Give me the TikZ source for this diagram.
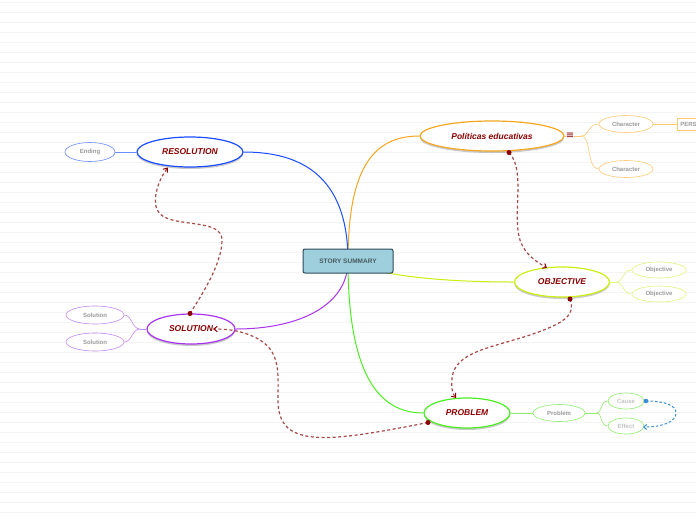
\documentclass[tikz,border=0pt]{standalone}
\usepackage{fontspec}
\setmainfont{Liberation Sans}
\newfontfamily\symfont{DejaVu Sans}
\usetikzlibrary{shapes.geometric,arrows.meta,shadows,backgrounds}
\definecolor{cfill}{HTML}{9DD0DC}
\definecolor{cborder}{HTML}{2E4A5A}
\definecolor{ctext}{HTML}{4A5A60}
\definecolor{dred}{HTML}{8B0000}
\definecolor{relc}{HTML}{A84848}
\definecolor{orgM}{HTML}{F5A623}
\definecolor{orgS}{HTML}{FFC875}
\definecolor{bluM}{HTML}{1A4DFF}
\definecolor{bluS}{HTML}{6A8CFF}
\definecolor{ygM}{HTML}{CCEE11}
\definecolor{ygS}{HTML}{E2F27A}
\definecolor{grnM}{HTML}{4CEE22}
\definecolor{grnS}{HTML}{8EEE6E}
\definecolor{purM}{HTML}{AA33EE}
\definecolor{purS}{HTML}{C68AF2}
\definecolor{gridc}{HTML}{F4F4F4}
\definecolor{subtext}{HTML}{9A9A9A}
\definecolor{cebl}{HTML}{3A8FD8}
\tikzset{
  maintopic/.style={ellipse, fill=white, line width=1.2pt, inner sep=0pt,
    font=\bfseries\itshape\fontsize{8.5}{10}\selectfont, text=dred,
    drop shadow={shadow xshift=0pt, shadow yshift=-2pt, opacity=0.35, fill=black!60}},
  subtopic/.style={ellipse, fill=white, line width=0.6pt, inner sep=0pt,
    font=\bfseries\fontsize{6}{7}\selectfont, text=subtext},
  rel/.style={draw=relc, line width=1.2pt, dash pattern=on 3pt off 2.5pt,
    -{Straight Barb[length=3.5pt,width=5.5pt,color=dred,line width=1pt]}},
  conn/.style={line width=1pt},
  subconn/.style={line width=0.6pt},
}
\begin{document}
\begin{tikzpicture}[x=1pt,y=-1pt]
\useasboundingbox (0,0) rectangle (696,520);

% central
\node[rectangle, rounded corners=2pt, fill=cfill, draw=cborder, line width=1pt,
  minimum width=90pt, minimum height=24pt, inner sep=0pt, text=ctext,
  font=\bfseries\fontsize{6.5}{7}\selectfont] (c) at (348,261) {STORY SUMMARY};

% main topics
\node[maintopic, draw=orgM, minimum width=144pt, minimum height=30pt] (pol) at (492,136) {Políticas educativas};
\node[maintopic, draw=ygM, minimum width=95pt, minimum height=30pt] (obj) at (562,282) {OBJECTIVE};
\node[maintopic, draw=grnM, minimum width=86pt, minimum height=30pt] (prob) at (467,413) {PROBLEM};
\node[maintopic, draw=bluM, minimum width=106pt, minimum height=30pt] (res) at (190,152) {RESOLUTION};
\node[maintopic, draw=purM, minimum width=88pt, minimum height=30pt] (sol) at (191,329) {SOLUTION};

% icon
\node[inner sep=0pt, text=dred, font=\symfont\fontsize{10}{10}\selectfont] (eq) at (570,136) {≡};

% subtopics
\node[subtopic, draw=orgS, minimum width=54pt, minimum height=17pt] (ch1) at (626,124) {Character};
\node[subtopic, draw=orgS, minimum width=54pt, minimum height=17pt] (ch2) at (626,169) {Character};
\node[rectangle, draw=orgS, fill=white, line width=0.6pt, anchor=west, minimum height=12pt,
  text width=34pt, align=left, inner sep=3pt, text=subtext,
  font=\bfseries\fontsize{6}{7}\selectfont] (pers) at (677,124) {PERS};
\node[subtopic, draw=ygS, minimum width=54pt, minimum height=16pt] (ob1) at (659,270) {Objective};
\node[subtopic, draw=ygS, minimum width=54pt, minimum height=16pt] (ob2) at (659,294) {Objective};
\node[subtopic, draw=grnS, minimum width=52pt, minimum height=17pt] (pb) at (559,413) {Problem};
\node[subtopic, draw=grnS, minimum width=36pt, minimum height=16pt, text=subtext!60] (cause) at (626,401) {Cause};
\node[subtopic, draw=grnS, minimum width=36pt, minimum height=16pt, text=subtext!60] (effect) at (626,426) {Effect};
\node[subtopic, draw=bluS, minimum width=50pt, minimum height=19pt] (end) at (90,152) {Ending};
\node[subtopic, draw=purS, minimum width=58pt, minimum height=18pt] (so1) at (95,315) {Solution};
\node[subtopic, draw=purS, minimum width=58pt, minimum height=18pt] (so2) at (95,342) {Solution};

\coordinate (pj) at (581,136);
\coordinate (oj) at (616,282);
\coordinate (bj) at (597,413);
\coordinate (sj) at (140,329);

\begin{scope}[on background layer]
  \fill[white] (0,0) rectangle (696,520);
  \foreach \i in {0,...,51} \draw[gridc, line width=0.6pt] (0,2.4+10*\i) -- (696,2.4+10*\i);
  % main connectors
  \draw[conn, orgM] (c.center) .. controls (348,170) and (372,136) .. (pol.west);
  \draw[conn, bluM] (c.center) .. controls (348,175) and (300,152) .. (res.east);
  \draw[conn, ygM] (c.center) .. controls (380,277) and (450,282) .. (obj.west);
  \draw[conn, purM] (c.center) .. controls (348,305) and (300,329) .. (sol.east);
  \draw[conn, grnM] (c.center) .. controls (348,385) and (385,413) .. (prob.west);
  % sub connectors
  \draw[subconn, orgS] (pol.east) -- (eq.west);
  \draw[subconn, orgS] (eq.east) -- (pj);
  \draw[subconn, orgS] (pj) .. controls (590,136) and (587,124) .. (ch1.west);
  \draw[subconn, orgS] (pj) .. controls (592,136) and (586,169) .. (ch2.west);
  \draw[subconn, orgS] (ch1.east) -- (pers.west);
  \draw[subconn, ygS] (obj.east) -- (oj);
  \draw[subconn, ygS] (oj) .. controls (624,282) and (622,270) .. (ob1.west);
  \draw[subconn, ygS] (oj) .. controls (624,282) and (622,294) .. (ob2.west);
  \draw[subconn, grnS] (prob.east) -- (pb.west);
  \draw[subconn, grnS] (pb.east) -- (bj);
  \draw[subconn, grnS] (bj) .. controls (602,413) and (600,401) .. (cause.west);
  \draw[subconn, grnS] (bj) .. controls (602,413) and (600,426) .. (effect.west);
  \draw[subconn, bluS] (res.west) -- (end.east);
  \draw[subconn, purS] (sol.west) -- (sj);
  \draw[subconn, purS] (sj) .. controls (132,329) and (132,315) .. (so1.east);
  \draw[subconn, purS] (sj) .. controls (132,329) and (132,342) .. (so2.east);
\end{scope}

% relationships
\coordinate (r1s) at (190,313.5);
\coordinate (r1e) at (168,167.5);
\draw[rel] (r1s) .. controls (205,290) and (222,262) .. (222,240)
  .. controls (222,218) and (175,228) .. (160,214)
  .. controls (150,204) and (158,180) .. (r1e);
\fill[dred] (r1s) circle (2.5);

\coordinate (r2s) at (428,422.5);
\coordinate (r2e) at (213,329);
\draw[rel] (r2s) .. controls (380,432) and (345,438) .. (322,437.5)
  .. controls (290,437) and (278,425) .. (278,400)
  .. controls (278,370) and (282,346) .. (247,334)
  .. controls (236,330) and (225,329) .. (r2e);
\fill[dred] (r2s) circle (2.5);

\coordinate (r3s) at (509,152.5);
\coordinate (r3e) at (547,268);
\draw[rel] (r3s) .. controls (526,170) and (512,215) .. (520,240)
  .. controls (525,255) and (537,262) .. (r3e);
\fill[dred] (r3s) circle (2.5);

\coordinate (r4s) at (570,299);
\coordinate (r4e) at (456,398);
\draw[rel] (r4s) .. controls (576,315) and (565,323) .. (530,335)
  .. controls (490,348) and (455,352) .. (452,378)
  .. controls (451,390) and (453,394) .. (r4e);
\fill[dred] (r4s) circle (2.5);

\coordinate (r5s) at (646,401);
\coordinate (r5e) at (643,427);
\draw[draw=cebl, line width=1pt, dash pattern=on 2.5pt off 2pt,
  -{Straight Barb[length=3pt,width=5pt,color=cebl,line width=1pt]}]
  (r5s) .. controls (664,401) and (676,405) .. (676,413)
  .. controls (676,422) and (662,427) .. (r5e);
\fill[cebl] (r5s) circle (2.3);
\end{tikzpicture}
\end{document}
